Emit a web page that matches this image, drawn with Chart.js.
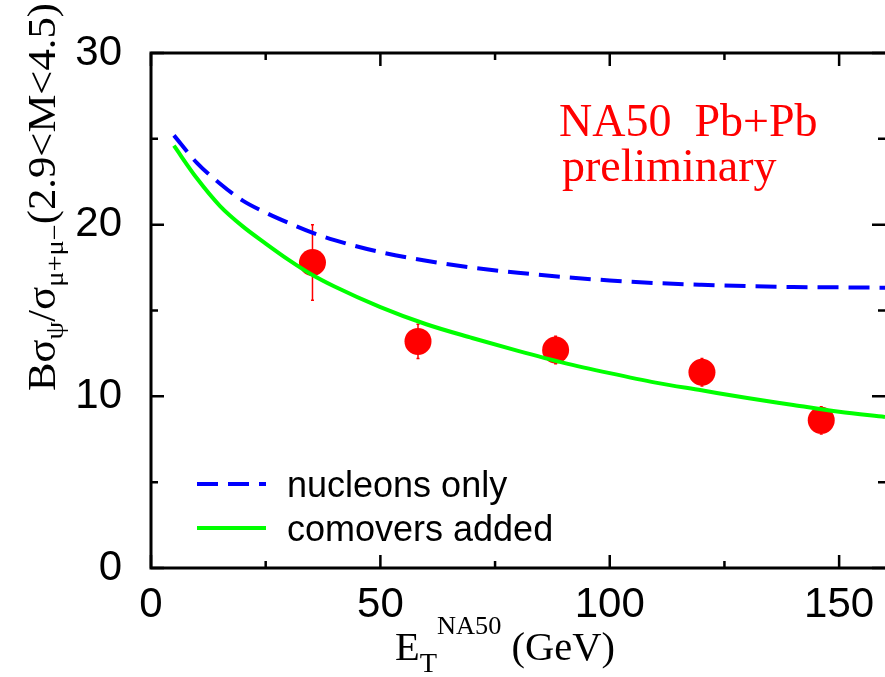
<!DOCTYPE html>
<html>
<head>
<meta charset="utf-8">
<script src="https://cdn.jsdelivr.net/npm/chart.js@4/dist/chart.umd.min.js"></script>
<style>
  html, body { margin: 0; padding: 0; background: #fff; }
</style>
</head>
<body>
<canvas id="jpsi" width="885" height="677"></canvas>
<script>
// model curves
const curveEt = [5, 10, 15, 20, 25, 30, 35, 40, 50, 60, 70, 80, 90, 100, 110, 120, 130, 140, 150, 160];
const nucleonsOnly = [25.2, 23.6, 22.4, 21.4, 20.7, 20.1, 19.55, 19.1, 18.4, 17.9, 17.5, 17.2, 16.95, 16.75, 16.6, 16.5, 16.42, 16.37, 16.35, 16.33];
const comoversAdded = [24.6, 22.7, 21.1, 19.9, 18.9, 17.95, 17.1, 16.4, 15.2, 14.2, 13.4, 12.65, 11.95, 11.35, 10.8, 10.35, 9.9, 9.5, 9.1, 8.8];

// NA50 Pb+Pb preliminary points
const dataEt = [35.2, 58.2, 88.2, 120.1, 146.1];
const dataRatio = [17.8, 13.2, 12.7, 11.4, 8.6];
const dataErr = [2.2, 1.0, 0.8, 0.8, 0.8];

const xTicks = [0, 50, 100, 150];
const xMinor = [25, 75, 125];
const yTicks = [0, 10, 20, 30];
const yMinor = [5, 15, 25];

const SANS = '"Liberation Sans", Arial, sans-serif';
const SERIF = '"Liberation Serif", "Times New Roman", serif';

// draw a run of text pieces (sub/superscripts), optionally stretched to a length
function richText(ctx, parts, target) {
  let w = 0;
  parts.forEach(p => {
    ctx.font = p.size + 'px ' + SERIF;
    p.w = ctx.measureText(p.t).width;
    w += p.w;
  });
  const sx = target ? target / w : 1;
  ctx.save();
  ctx.scale(sx, 1);
  let cx = 0;
  parts.forEach(p => {
    ctx.font = p.size + 'px ' + SERIF;
    ctx.fillText(p.t, cx, p.dy || 0);
    cx += p.w;
  });
  ctx.restore();
}

const decorations = {
  id: 'decorations',
  beforeDatasetsDraw(chart) {
    // error bars
    const ctx = chart.ctx, x = chart.scales.x, y = chart.scales.y;
    ctx.save();
    ctx.strokeStyle = '#ff0000';
    ctx.lineWidth = 1.5;
    dataEt.forEach((e, i) => {
      const px = x.getPixelForValue(e);
      const top = y.getPixelForValue(dataRatio[i] + dataErr[i]);
      const bot = y.getPixelForValue(dataRatio[i] - dataErr[i]);
      ctx.beginPath();
      ctx.moveTo(px, top); ctx.lineTo(px, bot);
      ctx.moveTo(px - 1.5, top); ctx.lineTo(px + 1.5, top);
      ctx.moveTo(px - 1.5, bot); ctx.lineTo(px + 1.5, bot);
      ctx.stroke();
    });
    ctx.restore();
  },
  afterDraw(chart) {
    const ctx = chart.ctx, x = chart.scales.x, y = chart.scales.y;
    const a = chart.chartArea;
    ctx.save();
    ctx.strokeStyle = '#000';
    ctx.lineWidth = 3;
    // frame (right edge falls off the canvas)
    ctx.beginPath();
    ctx.moveTo(a.right + 2, a.top);
    ctx.lineTo(a.left, a.top);
    ctx.lineTo(a.left, a.bottom);
    ctx.lineTo(a.right + 2, a.bottom);
    ctx.stroke();
    // inward ticks, mirrored
    ctx.lineWidth = 2.5;
    ctx.beginPath();
    const xt = (v, len) => {
      const px = x.getPixelForValue(v);
      ctx.moveTo(px, a.bottom); ctx.lineTo(px, a.bottom - len);
      ctx.moveTo(px, a.top); ctx.lineTo(px, a.top + len);
    };
    const yt = (v, len) => {
      const py = y.getPixelForValue(v);
      ctx.moveTo(a.left, py); ctx.lineTo(a.left + len, py);
      ctx.moveTo(a.right, py); ctx.lineTo(a.right - len, py);
    };
    xTicks.forEach(v => xt(v, 13));
    xMinor.forEach(v => xt(v, 7));
    yTicks.forEach(v => yt(v, 13));
    yMinor.forEach(v => yt(v, 7));
    ctx.stroke();

    // legend
    const rows = [chart.data.datasets[0], chart.data.datasets[1]];
    const rowY = [484, 528];
    rows.forEach((ds, i) => {
      ctx.strokeStyle = ds.borderColor;
      ctx.lineWidth = ds.borderWidth;
      ctx.setLineDash(ds.borderDash || []);
      ctx.beginPath();
      ctx.moveTo(197, rowY[i]); ctx.lineTo(266, rowY[i]);
      ctx.stroke();
      ctx.setLineDash([]);
      ctx.fillStyle = '#000';
      ctx.font = '36px ' + SANS;
      ctx.textBaseline = 'alphabetic';
      ctx.fillText(ds.label, 287, rowY[i] + 13);
    });

    // annotation
    ctx.fillStyle = '#ff0000';
    ctx.font = '46px ' + SERIF;
    ctx.fillText('NA50  Pb+Pb', 559, 136);
    ctx.fillText('preliminary', 562, 181);

    // axis titles
    ctx.fillStyle = '#000';
    ctx.save();
    ctx.translate(395, 660);
    richText(ctx, [
      { t: 'E', size: 40 },
      { t: 'T', size: 28, dy: 12 },
      { t: 'NA50', size: 26, dy: -26 },
      { t: ' (GeV)', size: 40 }
    ], 220);
    ctx.restore();

    ctx.save();
    ctx.translate(55, 391);
    ctx.rotate(-Math.PI / 2);
    richText(ctx, [
      { t: 'B\u03c3', size: 39 },
      { t: '\u03c8', size: 26, dy: 8 },
      { t: '/\u03c3', size: 39 },
      { t: '\u03bc+\u03bc\u2212', size: 26, dy: 8 },
      { t: '(2.9<M<4.5)', size: 39 }
    ], 388);
    ctx.restore();
    ctx.restore();
  }
};

const ctx = document.getElementById('jpsi').getContext('2d');
new Chart(ctx, {
  type: 'line',
  data: {
    datasets: [
      {
        label: 'nucleons only',
        data: curveEt.map((e, i) => ({ x: e, y: nucleonsOnly[i] })),
        borderColor: '#0000ff',
        borderWidth: 4,
        borderDash: [21, 10],
        pointRadius: 0,
        cubicInterpolationMode: 'monotone',
        order: 1
      },
      {
        label: 'comovers added',
        data: curveEt.map((e, i) => ({ x: e, y: comoversAdded[i] })),
        borderColor: '#00ff00',
        borderWidth: 4,
        pointRadius: 0,
        cubicInterpolationMode: 'monotone',
        order: 2
      },
      {
        label: 'NA50 Pb+Pb preliminary',
        type: 'scatter',
        data: dataEt.map((e, i) => ({ x: e, y: dataRatio[i] })),
        backgroundColor: '#ff0000',
        borderColor: '#ff0000',
        pointRadius: 13.5,
        borderWidth: 0,
        order: 3
      }
    ]
  },
  options: {
    responsive: false,
    animation: false,
    devicePixelRatio: 1,
    layout: { autoPadding: false, padding: { left: 0, right: -1, top: 53, bottom: 0 } },
    plugins: {
      legend: { display: false },
      tooltip: { enabled: false }
    },
    scales: {
      x: {
        type: 'linear',
        min: 0,
        max: 160,
        afterBuildTicks: s => { s.ticks = xTicks.map(v => ({ value: v })); },
        afterFit: s => { s.height = 109; s.paddingLeft = 0; s.paddingRight = 0; },
        grid: { display: false, drawTicks: false },
        border: { display: false },
        ticks: {
          padding: 12,
          maxRotation: 0,
          color: '#000',
          font: { family: SANS, size: 42 }
        }
      },
      y: {
        min: 0,
        max: 30,
        afterBuildTicks: s => { s.ticks = yTicks.map(v => ({ value: v })); },
        afterFit: s => { s.width = 151; s.paddingTop = 0; s.paddingBottom = 0; },
        grid: { display: false, drawTicks: false },
        border: { display: false },
        ticks: {
          padding: 29,
          color: '#000',
          font: { family: SANS, size: 42 }
        }
      }
    }
  },
  plugins: [decorations]
});
</script>
</body>
</html>
